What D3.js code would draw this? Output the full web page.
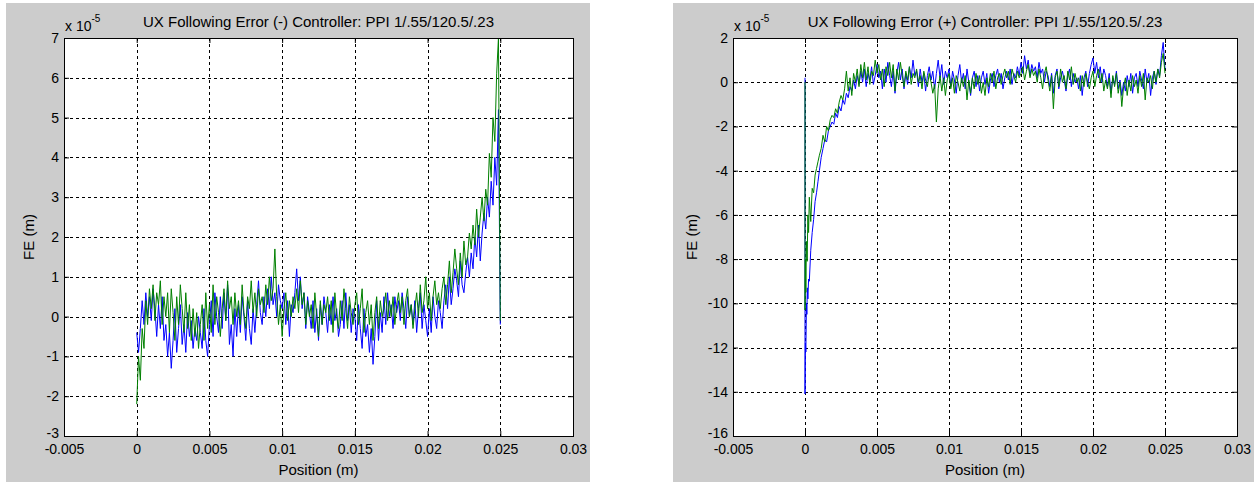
<!DOCTYPE html>
<html>
<head>
<meta charset="utf-8">
<script src="https://cdn.jsdelivr.net/npm/d3@7"></script>
<style>
  body { margin: 0; background: #fff; }
  svg { display: block; font-family: "Liberation Sans", Arial, sans-serif; }
</style>
</head>
<body>
<svg id="chart" width="1254" height="482"></svg>
<script>
// ticks shared by both panels
const xTicks = [-0.005, 0, 0.005, 0.01, 0.015, 0.02, 0.025, 0.03];
const xTickLabels = ['-0.005', '0', '0.005', '0.01', '0.015', '0.02', '0.025', '0.03'];
const minusYTicks = [-3, -2, -1, 0, 1, 2, 3, 4, 5, 6, 7];
const plusYTicks = [-16, -14, -12, -10, -8, -6, -4, -2, 0, 2];

// sample spacing of the traces (m)
const sampleStep = 0.000125;

// FE (-) run, units of 1e-5 m, sampled from 0 to 0.025
const minusBlue = [
  -0.4,-0.9,-0.3,0.4,-0.2,0.6,0.0,0.5,
  -0.1,0.7,0.2,-0.5,0.3,-0.3,0.5,-0.6,
  -0.2,-1.0,-0.4,-1.3,-0.6,0.2,-0.9,-0.3,
  0.3,-0.7,-0.2,-0.9,0.1,-0.5,-0.1,-0.8,
  -0.3,-0.6,0.0,-0.4,-0.8,0.2,-0.6,-1.0,
  -0.2,0.4,-0.5,0.6,0.0,-0.4,0.5,-0.3,
  0.6,-0.1,0.8,-0.7,-0.2,-1.0,0.2,-0.5,
  0.3,-0.4,0.5,0.0,-0.6,0.4,-0.3,-0.7,
  0.2,-0.4,0.3,0.9,0.1,-0.2,0.5,0.0,
  0.7,0.2,1.0,0.3,0.6,0.0,0.8,0.4,
  0.2,0.6,-0.2,0.4,-0.5,0.3,0.1,0.6,
  1.2,0.4,1.0,0.2,0.6,-0.3,0.5,0.1,
  -0.3,0.4,-0.4,0.2,-0.6,0.3,-0.2,0.5,
  0.1,-0.4,0.3,-0.2,0.5,-0.1,0.2,-0.5,
  -0.2,0.4,-0.3,0.6,-0.1,0.3,-0.4,0.2,
  0.0,-0.6,0.3,-0.3,-0.8,0.2,-0.5,-0.2,
  -0.9,-0.3,-1.2,-0.5,0.4,-0.6,0.1,-0.4,
  0.5,-0.2,0.6,0.0,0.3,-0.3,0.5,0.1,
  0.4,-0.1,0.6,0.2,-0.3,0.5,0.0,0.3,
  -0.2,0.4,-0.4,0.2,0.6,-0.3,0.3,-0.1,
  -0.5,0.2,-0.4,0.5,0.0,-0.3,0.4,0.1,
  -0.3,0.4,0.8,0.2,1.0,0.3,0.7,1.2,
  0.9,0.5,1.4,0.8,0.6,1.1,1.5,1.0,
  1.6,1.2,2.0,1.5,2.3,1.4,2.1,2.6,
  2.2,3.0,2.5,3.4,2.8,4.0,3.3,5.2,
  -0.2
];
const minusGreen = [
  -2.2,-1.0,-1.6,-0.3,-0.8,0.4,-0.2,0.7,
  0.2,0.8,-0.1,0.6,0.3,0.9,-0.2,0.5,
  0.0,0.6,-0.4,0.7,0.1,-0.6,0.5,-0.2,
  0.8,0.2,-0.4,0.6,-0.3,0.3,-0.6,0.2,
  -0.5,0.1,-0.8,-0.2,0.3,-0.6,0.6,-0.3,
  0.3,-0.4,0.8,-0.2,0.5,0.1,-0.5,0.2,
  0.7,-0.1,0.9,0.2,0.5,-0.2,0.6,0.0,
  0.4,-0.2,0.8,0.1,-0.3,0.5,0.2,0.9,
  0.1,0.6,0.0,0.7,0.3,0.5,0.1,0.8,
  0.3,1.0,0.4,0.7,1.7,0.5,-0.2,0.3,
  -0.5,0.2,0.6,-0.1,0.4,0.0,0.5,0.2,
  0.7,0.1,0.9,0.3,0.6,-0.2,0.4,0.0,
  0.3,-0.3,0.6,0.0,-0.5,0.4,-0.2,0.3,
  0.1,0.5,-0.1,0.4,-0.4,0.6,0.0,-0.3,
  0.4,-0.1,0.7,0.2,-0.3,0.5,0.1,-0.2,
  0.3,0.6,-0.2,0.2,0.7,-0.4,0.1,0.4,
  -0.2,0.3,-0.6,0.1,0.5,-0.3,0.4,0.0,
  0.2,0.6,-0.1,0.4,0.0,0.5,-0.2,0.3,
  0.6,0.1,0.5,-0.2,0.4,0.7,0.0,0.3,
  -0.3,0.2,0.6,0.0,0.8,0.1,0.4,1.0,
  0.2,0.6,-0.1,0.5,0.9,0.3,0.6,0.2,
  0.7,1.0,0.3,0.8,1.4,0.6,1.1,1.7,
  1.2,0.8,1.6,1.0,1.9,1.3,1.5,2.1,
  1.7,2.3,1.8,2.7,2.0,2.5,3.0,2.4,
  3.2,2.8,4.1,3.5,5.0,4.4,6.1,7.0,
  -0.1
];

// FE (+) run: start transient read point by point, then the body from 0.001 to 0.025
const plusBlueHeadPos = [0, 0, 0.00003, 0.00006, 0.0001, 0.00013, 0.00016, 0.0002, 0.00025, 0.0003, 0.0004, 0.0005, 0.0006, 0.0007, 0.0008, 0.0009];
const plusBlueHead = [0.2, -14.1, -11.8, -12.2, -10.0, -10.5, -9.3, -9.8, -8.9, -9.0, -7.6, -6.8, -6.2, -5.4, -5.0, -4.5];
const plusGreenHeadPos = [0, 0, 0.00003, 0.00006, 0.0001, 0.00015, 0.0002, 0.00025, 0.0003, 0.0004, 0.0005, 0.0006, 0.0007, 0.0008, 0.0009];
const plusGreenHead = [0.0, -10.3, -8.0, -9.5, -7.2, -8.1, -6.0, -6.8, -5.2, -6.3, -4.8, -5.0, -4.2, -3.9, -3.6];
const plusBodyStart = 0.001;
const plusBlue = [
  -4.0,-3.4,-3.0,-2.6,-2.7,-2.2,-2.0,-1.8,
  -1.9,-1.4,-1.6,-1.1,-1.3,-0.8,-1.0,-0.5,
  -0.7,-0.2,-0.4,0.1,-0.3,0.3,-0.1,0.5,
  0.0,0.6,-0.2,0.4,0.1,0.7,-0.1,0.3,
  0.8,0.2,0.5,-0.3,0.6,0.0,0.9,0.3,
  -0.2,0.5,-0.5,0.4,0.9,0.1,0.6,-0.3,
  0.4,-0.1,0.7,0.2,1.0,0.3,0.5,-0.2,
  0.6,0.0,0.4,-0.4,0.3,0.7,0.1,0.5,
  -0.3,0.4,1.0,0.2,0.8,-0.1,0.5,0.2,
  0.6,-0.2,0.5,0.1,-0.5,0.3,0.8,0.0,
  0.4,-0.3,0.6,0.0,-0.6,0.2,0.5,-0.2,
  0.3,-0.4,0.2,0.5,-0.1,0.4,-0.5,0.1,
  0.4,-0.2,0.3,0.6,0.0,0.4,-0.3,0.2,
  0.5,0.1,0.6,-0.1,0.4,0.2,0.7,0.3,
  0.9,0.4,1.2,0.6,1.0,0.3,0.8,0.5,
  0.7,0.2,0.9,0.4,0.6,0.0,0.5,0.3,
  -0.2,0.4,-0.5,0.3,0.6,-0.3,0.2,0.5,
  0.1,-0.4,0.3,0.6,-0.2,0.4,0.0,0.2,
  -0.3,0.3,-0.6,0.2,0.5,-0.2,0.4,0.8,
  1.1,0.4,0.9,0.2,0.7,0.0,0.6,0.3,
  -0.2,0.4,-0.5,0.2,-0.1,0.5,-0.3,0.1,
  -0.6,0.0,-0.4,0.3,-0.2,0.4,-0.5,0.2,
  0.4,-0.2,0.5,0.1,-0.3,0.6,0.0,0.4,
  -0.6,0.2,0.5,-0.1,0.6,0.3,1.2,1.8,
  0.6
];
const plusGreen = [
  -3.3,-3.0,-2.4,-2.7,-2.0,-2.2,-1.7,-1.5,
  -1.6,-1.2,-1.4,-0.9,-0.6,-0.8,-0.3,0.5,
  -0.4,0.2,-0.6,0.4,0.0,0.6,-0.2,0.8,
  0.2,0.9,0.1,0.7,-0.1,0.5,0.3,1.0,
  0.4,0.8,0.1,0.6,-0.2,0.7,0.3,0.9,
  0.2,0.8,-0.4,0.6,0.1,0.9,0.3,-0.2,
  0.5,0.1,0.7,-0.1,0.4,0.2,0.6,0.0,
  0.3,-0.3,0.5,0.1,-0.2,0.4,0.0,-0.5,
  -0.1,-1.8,-0.3,0.3,-0.4,0.2,-0.6,0.1,
  0.4,-0.3,0.2,-0.5,0.3,0.0,-0.4,0.2,
  -0.2,0.3,-0.8,0.1,-0.5,0.2,-0.3,0.4,
  -0.1,0.3,-0.5,0.0,-0.6,0.2,-0.2,0.4,
  0.0,0.5,-0.3,0.2,0.4,-0.1,0.3,0.6,
  0.2,0.5,-0.1,0.6,0.3,0.0,0.5,0.2,
  0.4,0.7,0.1,0.5,0.8,0.2,0.6,0.3,
  0.5,0.0,0.6,0.2,-0.3,0.4,0.7,0.1,
  -0.4,0.3,-1.2,0.2,0.5,-0.2,0.6,0.0,
  0.3,-0.3,0.5,0.1,0.7,-0.1,0.4,0.0,
  0.2,-0.4,0.3,-0.2,0.4,0.0,-0.3,0.2,
  0.5,-0.2,0.3,0.6,0.0,0.4,-0.4,0.1,
  -0.3,0.2,-0.7,0.3,-0.2,0.4,-0.5,0.0,
  -1.1,-0.2,0.2,-0.6,0.1,-0.4,0.3,-0.2,
  0.1,-0.5,0.3,-0.2,0.4,-0.8,0.2,0.0,
  0.3,-0.3,0.5,0.0,0.6,0.2,0.9,1.3,
  0.4
];

const toPoints = (vals, start) => vals.map((v, i) => [start + i * sampleStep, v]);
const pairUp = (pos, vals) => pos.map((p, i) => [p, vals[i]]);

const panels = [
  {
    bg: [6, 3, 584, 479],
    box: { left: 64, top: 38, right: 573, bottom: 436 },
    yDomain: [-3, 7],
    yTicks: minusYTicks,
    ylabelX: 34,
    title: 'UX Following Error (-) Controller: PPI 1/.55/120.5/.23',
    series: [
      { color: '#0000ff', points: toPoints(minusBlue, 0) },
      { color: '#008000', points: toPoints(minusGreen, 0) }
    ]
  },
  {
    bg: [673, 3, 581, 479],
    box: { left: 733, top: 38, right: 1237, bottom: 436 },
    yDomain: [-16, 2],
    yTicks: plusYTicks,
    ylabelX: 697,
    title: 'UX Following Error (+) Controller: PPI 1/.55/120.5/.23',
    series: [
      { color: '#0000ff', points: pairUp(plusBlueHeadPos, plusBlueHead).concat(toPoints(plusBlue, plusBodyStart)) },
      { color: '#008000', points: pairUp(plusGreenHeadPos, plusGreenHead).concat(toPoints(plusGreen, plusBodyStart)) }
    ]
  }
];

const svg = d3.select('#chart');
const fontFamily = '"Liberation Sans", Arial, sans-serif';

panels.forEach(p => {
  const b = p.box;
  const x = d3.scaleLinear().domain([-0.005, 0.03]).range([b.left, b.right]);
  const y = d3.scaleLinear().domain(p.yDomain).range([b.bottom, b.top]);
  const g = svg.append('g');

  g.append('rect')
    .attr('x', p.bg[0]).attr('y', p.bg[1])
    .attr('width', p.bg[2]).attr('height', p.bg[3])
    .attr('fill', '#cccccc');

  g.append('rect')
    .attr('x', b.left).attr('y', b.top)
    .attr('width', b.right - b.left).attr('height', b.bottom - b.top)
    .attr('fill', '#fff');

  // dotted grid
  g.selectAll('.vgrid')
    .data(xTicks.slice(1, -1))
    .enter().append('line')
    .attr('x1', d => Math.round(x(d)) + 0.5).attr('x2', d => Math.round(x(d)) + 0.5)
    .attr('y1', b.top).attr('y2', b.bottom)
    .attr('stroke', '#000').attr('stroke-dasharray', '3,3');
  g.selectAll('.hgrid')
    .data(p.yTicks.slice(1, -1))
    .enter().append('line')
    .attr('y1', d => Math.round(y(d)) + 0.5).attr('y2', d => Math.round(y(d)) + 0.5)
    .attr('x1', b.left).attr('x2', b.right)
    .attr('stroke', '#000').attr('stroke-dasharray', '3,3');

  const line = d3.line().x(d => x(d[0])).y(d => y(d[1]));
  p.series.forEach(s => {
    g.append('path')
      .datum(s.points)
      .attr('d', line)
      .attr('fill', 'none')
      .attr('stroke', s.color)
      .attr('stroke-width', 1);
  });

  const xAxis = d3.axisBottom(x).tickValues(xTicks)
    .tickFormat((d, i) => xTickLabels[i]).tickSize(-5).tickPadding(8);
  const yAxis = d3.axisLeft(y).tickValues(p.yTicks)
    .tickFormat(d => String(d)).tickSize(-5).tickPadding(5);

  const xa = g.append('g').attr('transform', `translate(0,${b.bottom})`).call(xAxis);
  const ya = g.append('g').attr('transform', `translate(${b.left},0)`).call(yAxis);
  [xa, ya].forEach(a => {
    a.select('.domain').remove();
    a.selectAll('text').attr('font-size', 14).attr('font-family', fontFamily).attr('fill', '#000');
    a.selectAll('line').attr('stroke', '#000');
  });
  // the lowest y label sits a little higher, clear of the x labels
  ya.selectAll('.tick text').filter(d => d === p.yDomain[0]).attr('dy', '0.1em');

  // ticks on the top and right edges too
  g.append('g').attr('transform', `translate(0,${b.top})`)
    .call(d3.axisTop(x).tickValues(xTicks).tickFormat('').tickSize(-5))
    .select('.domain').remove();
  g.append('g').attr('transform', `translate(${b.right},0)`)
    .call(d3.axisRight(y).tickValues(p.yTicks).tickFormat('').tickSize(-5))
    .select('.domain').remove();

  g.append('rect')
    .attr('x', b.left + 0.5).attr('y', b.top + 0.5)
    .attr('width', b.right - b.left).attr('height', b.bottom - b.top)
    .attr('fill', 'none').attr('stroke', '#000');

  const cx = (b.left + b.right) / 2;
  g.append('text')
    .attr('x', cx).attr('y', 27)
    .attr('text-anchor', 'middle').attr('font-size', 15)
    .text(p.title);

  g.append('text')
    .attr('x', cx).attr('y', 475)
    .attr('text-anchor', 'middle').attr('font-size', 15)
    .text('Position (m)');

  g.append('text')
    .attr('transform', `translate(${p.ylabelX},${(b.top + b.bottom) / 2}) rotate(-90)`)
    .attr('text-anchor', 'middle').attr('font-size', 15)
    .text('FE (m)');

  const exp = g.append('text')
    .attr('x', b.left + 1).attr('y', 31)
    .attr('font-size', 14)
    .text('x 10');
  exp.append('tspan').attr('dy', -9).attr('font-size', 10).text('-5');
});
</script>
</body>
</html>
